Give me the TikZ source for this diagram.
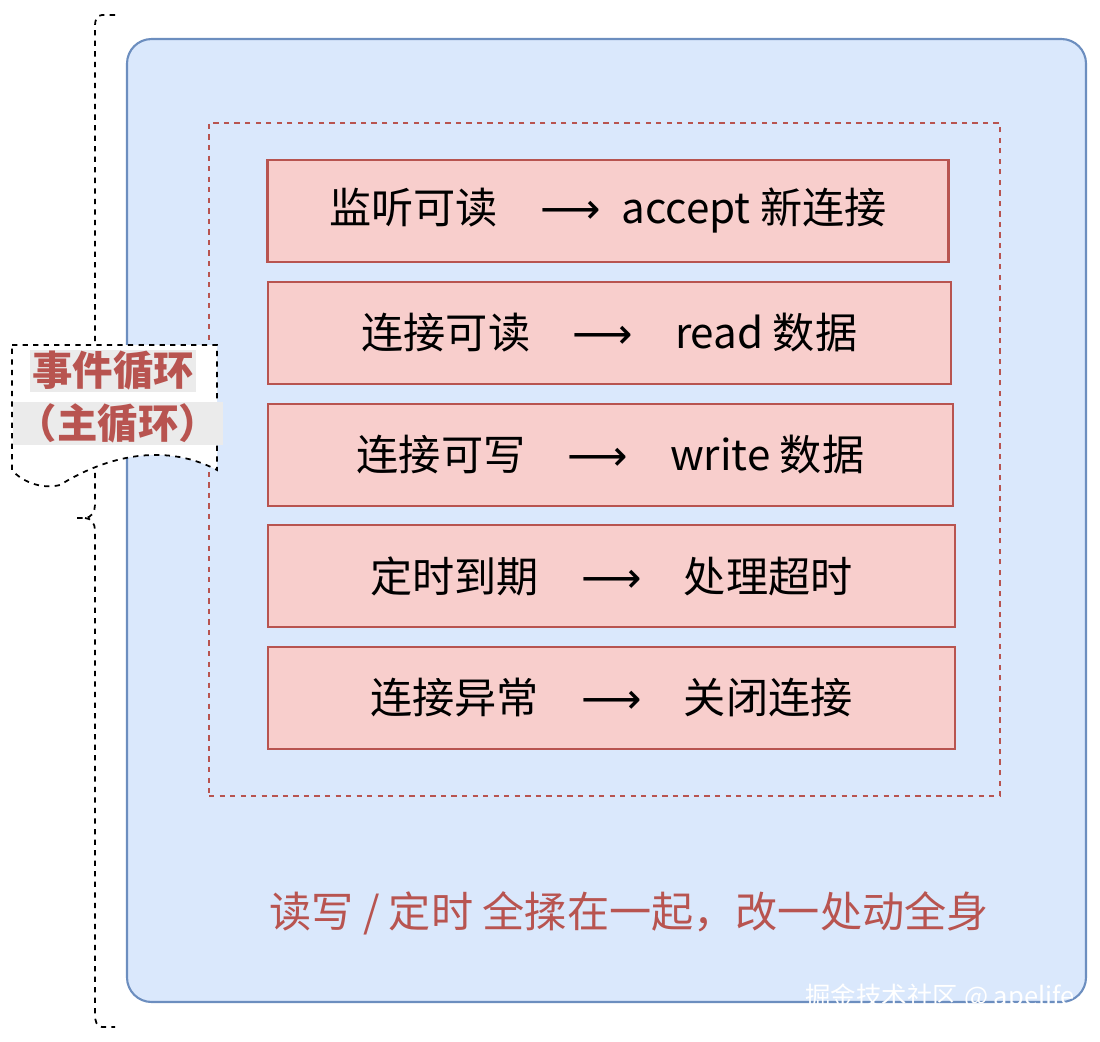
\documentclass[tikz,border=0pt]{standalone}
\usepackage{fontspec}
\setmainfont{Noto Sans CJK SC}
\newfontfamily\arr{DejaVu Sans}
\begin{document}
\begin{tikzpicture}[x=0.02cm,y=-0.02cm]
\useasboundingbox (0,0) rectangle (1100,1042);
\definecolor{bfill}{HTML}{DAE8FC}\definecolor{bdraw}{HTML}{6C8EBF}
\definecolor{rd}{HTML}{B85450}\definecolor{rf}{HTML}{F8CECC}
\node[draw=bdraw,fill=bfill,line width=1.2pt,rounded corners=14pt,minimum width=959*0.02cm,minimum height=963*0.02cm] (outer) at (606.5,520.5) {};
\node[draw=rd,dashed,line width=1pt,minimum width=791*0.02cm,minimum height=673*0.02cm] (inner) at (604.5,459.5) {};
\foreach \n/\a/\b/\y/\w/\t in {b1/268/948/211/681/{监听可读\quad{\arr ⟶}\enspace accept 新连接},
  b2/268/951/333/683/{连接可读\quad{\arr ⟶}\quad read 数据},
  b3/268/953/455/685/{连接可写\quad{\arr ⟶}\quad write 数据},
  b4/268/955/576/687/{定时到期\quad{\arr ⟶}\quad 处理超时},
  b5/268/955/698/687/{连接异常\quad{\arr ⟶}\quad 关闭连接}}{
  \node[draw=rd,fill=rf,line width=1.2pt,minimum width=\w*0.02cm,minimum height=102*0.02cm,font=\fontsize{24}{28}\selectfont] (\n) at ({(\a+\b)/2},\y) {\t};}
\node[text=rd,font=\fontsize{24}{28}\selectfont] (note) at (629,913) {读写 / 定时 全揉在一起，改一处动全身};
\node[text=white,font=\fontsize{14.5}{17}\selectfont] (wm) at (940,998) {掘金技术社区 @ apelife};
% brace
\draw[dashed,line width=1pt] (115,15) -- (102,15) to[out=180,in=90] (95,25) -- (95,505) to[out=-90,in=0] (85,518) -- (75,518);
\draw[dashed,line width=1pt] (85,518) to[out=0,in=90] (95,530) -- (95,1015) to[out=-90,in=180] (102,1027) -- (115,1027);
% callout
\draw[dashed,line width=1pt,fill=white] (12,345) -- (217,345) -- (217,470) .. controls (160,440) and (100,460) .. (60,485) .. controls (40,490) and (20,480) .. (12,470) -- cycle;
\node[fill=black!8,text=rd,font=\bfseries\fontsize{23}{26}\selectfont,inner sep=1pt] (l1) at (113,371) {事件循环};
\node[fill=black!8,text=rd,font=\bfseries\fontsize{23}{26}\selectfont,inner sep=1pt,minimum width=210*0.02cm] (l2) at (118,423) {（主循环）};
\end{tikzpicture}
\end{document}
